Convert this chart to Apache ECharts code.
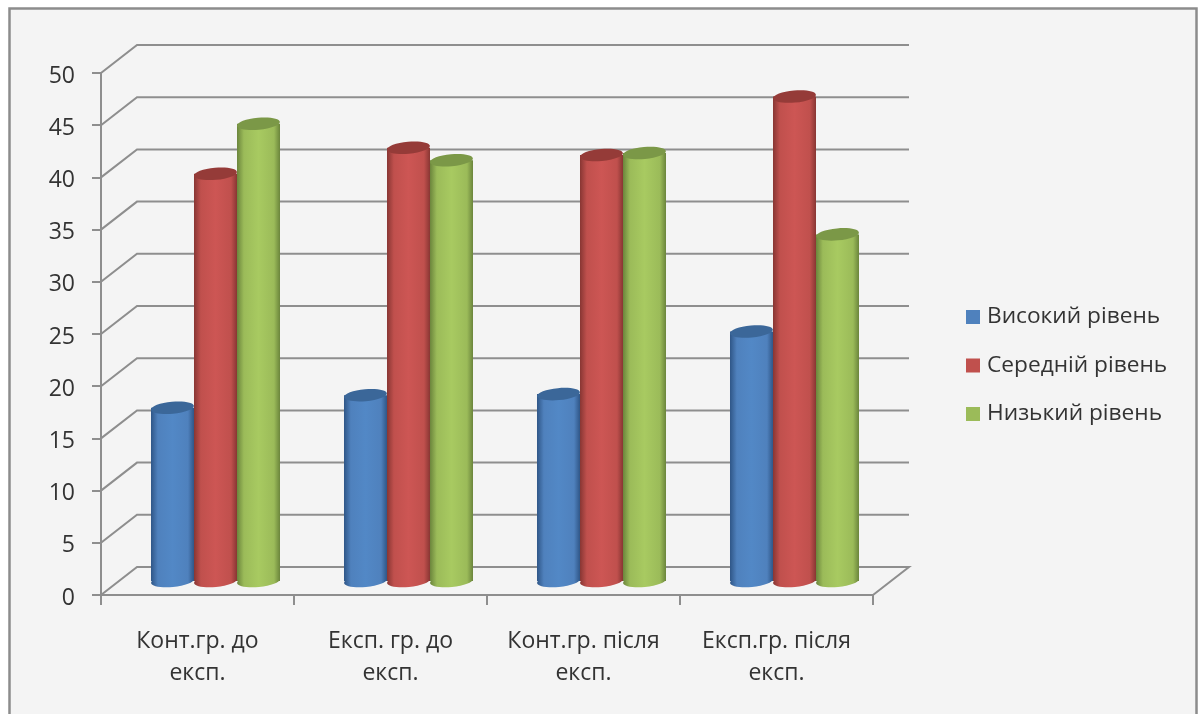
<!DOCTYPE html>
<html>
<head>
<meta charset="utf-8">
<style>html,body{margin:0;padding:0;background:#fff}#chart{width:1204px;height:714px}</style>
<script src="https://cdn.jsdelivr.net/npm/echarts@6/dist/echarts.min.js"></script>
</head>
<body>
<div id="chart"></div>
<script>
const categories = ['Конт.гр. до\nексп.', 'Експ. гр. до\nексп.', 'Конт.гр. після\nексп.', 'Експ.гр. після\nексп.'];
const highLevel = [16.6, 17.8, 17.9, 23.9];
const midLevel = [39, 41.5, 40.8, 46.4];
const lowLevel = [43.8, 40.3, 41, 33.2];
const valueTicks = [0, 5, 10, 15, 20, 25, 30, 35, 40, 45, 50];

const FONT = '"Open Sans", sans-serif';
const TEXT = '#333333';
const LINE = '#8e8e8e';
// Oblique projection of the chart's depth
const DEPTH_X = 36;
const DEPTH_Y = 28;
const BAR_SHARE = 0.2228;
const RY = 6;
const TILT = 0.09;

const palette = [
  { base: '#4f81bd', edge: '#2f5687', glow: '#5288c6', cap: '#3b6799' },
  { base: '#c0504d', edge: '#883633', glow: '#cd5654', cap: '#953b38' },
  { base: '#9bbb59', edge: '#6b853c', glow: '#a8ca61', cap: '#7b9847' }
];

function bodyFill(c) {
  return {
    type: 'linear', x: 0, y: 0, x2: 1, y2: 0,
    colorStops: [
      { offset: 0, color: c.edge },
      { offset: 0.16, color: c.base },
      { offset: 0.5, color: c.glow },
      { offset: 0.86, color: c.base },
      { offset: 1, color: c.edge }
    ]
  };
}

// One cylinder standing at mid depth of the floor
function cylinder(slot) {
  return function (params, api) {
    const c = palette[slot];
    const top = api.coord([api.value(0), api.value(1)]);
    const foot = api.coord([api.value(0), 0]);
    const band = api.size([1, 0])[0];
    const w = band * BAR_SHARE;
    const cx = top[0] + (slot - 1) * w + DEPTH_X / 2;
    const yTop = top[1] - DEPTH_Y / 2;
    const yFoot = foot[1] - DEPTH_Y / 2;
    const fill = bodyFill(c);
    return {
      type: 'group',
      children: [
        {
          type: 'ellipse',
          shape: { cx: cx, cy: yFoot, rx: w / 2, ry: RY },
          originX: cx, originY: yFoot, rotation: TILT,
          style: { fill: fill }
        },
        {
          type: 'rect',
          shape: { x: cx - w / 2, y: yTop, width: w, height: yFoot - yTop },
          style: { fill: fill }
        },
        {
          type: 'ellipse',
          shape: { cx: cx, cy: yTop, rx: w / 2, ry: RY },
          originX: cx, originY: yTop, rotation: TILT,
          style: { fill: c.cap }
        }
      ]
    };
  };
}

// Floor edge, side wall and back wall rule for one value tick
function wallRule(params, api) {
  const p = api.coord([0, api.value(1)]);
  const band = api.size([1, 0])[0];
  const x0 = p[0] - band / 2;
  const x1 = x0 + band * categories.length;
  const pts = [[x0, p[1]], [x0 + DEPTH_X, p[1] - DEPTH_Y], [x1 + DEPTH_X, p[1] - DEPTH_Y]];
  if (api.value(1) === 0) pts.push([x1, p[1]]);
  return {
    type: 'polyline',
    shape: { points: pts },
    style: { fill: null, stroke: LINE, lineWidth: 2 }
  };
}

function cylinderSeries(name, values, slot) {
  return {
    name: name,
    type: 'custom',
    renderItem: cylinder(slot),
    itemStyle: { color: palette[slot].base },
    data: values.map((v, i) => [i, v]),
    encode: { x: 0, y: 1 },
    clip: false,
    silent: true,
    z: 3
  };
}

const chart = echarts.init(document.getElementById('chart'));
chart.setOption({
  animation: false,
  backgroundColor: '#ffffff',
  graphic: [{
    type: 'rect',
    z: -10,
    shape: { x: 9.5, y: 8.5, width: 1187, height: 730 },
    style: { fill: '#f4f4f4', stroke: '#8c8c8c', lineWidth: 2.5 }
  }],
  grid: { left: 101, right: 331, top: 73, bottom: 119 },
  legend: {
    orient: 'vertical',
    left: 961,
    top: 298,
    itemWidth: 14,
    itemHeight: 14,
    itemGap: 20.5,
    icon: 'rect',
    selectedMode: false,
    data: ['Високий рівень', 'Середній рівень', 'Низький рівень'],
    textStyle: { fontFamily: FONT, fontSize: 22.7, color: TEXT, lineHeight: 28, padding: [0, 0, 0, 2] }
  },
  xAxis: {
    type: 'category',
    data: categories,
    boundaryGap: true,
    axisLine: { lineStyle: { color: LINE, width: 2 } },
    axisTick: { show: true, alignWithLabel: false, length: 10, lineStyle: { color: LINE, width: 2 } },
    axisLabel: { interval: 0, margin: 30, fontFamily: FONT, fontSize: 23, color: TEXT, lineHeight: 32 },
    splitLine: { show: false }
  },
  yAxis: {
    type: 'value',
    min: 0,
    max: 50,
    interval: 5,
    axisLine: { show: true, lineStyle: { color: LINE, width: 2 } },
    axisTick: { show: true, length: 9, lineStyle: { color: LINE, width: 2 } },
    axisLabel: {
      margin: 26,
      formatter: '{n|{value}}',
      rich: { n: { fontFamily: FONT, fontSize: 23, color: TEXT, padding: [6, 0, 0, 0] } }
    },
    splitLine: { show: false }
  },
  series: [
    {
      type: 'custom',
      renderItem: wallRule,
      data: valueTicks.map(v => [0, v]),
      encode: { x: 0, y: 1 },
      clip: false,
      silent: true,
      z: 1
    },
    cylinderSeries('Високий рівень', highLevel, 0),
    cylinderSeries('Середній рівень', midLevel, 1),
    cylinderSeries('Низький рівень', lowLevel, 2)
  ]
});
</script>
</body>
</html>
